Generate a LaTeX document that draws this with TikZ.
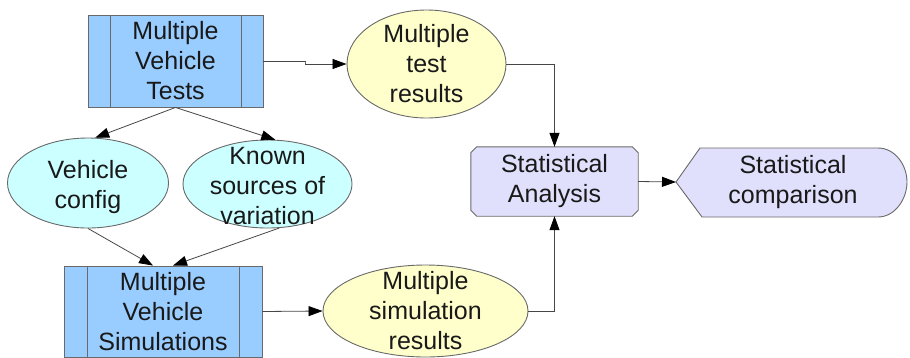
\documentclass[tikz,border=0pt]{standalone}
\usepackage{fontspec}
\setmainfont{Liberation Sans}
\usetikzlibrary{shapes.geometric,arrows.meta,calc,backgrounds}

\definecolor{boxblue}{RGB}{153,204,255}
\definecolor{cyanfill}{RGB}{204,255,255}
\definecolor{yellowfill}{RGB}{255,255,204}
\definecolor{lavender}{RGB}{224,224,252}
\definecolor{edgegrey}{RGB}{105,105,105}
\definecolor{linegrey}{RGB}{70,70,70}
\definecolor{textdark}{RGB}{25,25,25}

\tikzset{
  txt/.style={align=center, text=textdark, font=\fontsize{25}{30}\selectfont, inner sep=0pt},
  shapebase/.style={draw=edgegrey, line width=0.9pt, inner sep=0pt},
  process/.style={shapebase, rectangle, fill=boxblue,
    path picture={
      \draw[edgegrey, line width=0.9pt]
        ([xshift=#1]path picture bounding box.north west) -- ([xshift=#1]path picture bounding box.south west)
        ([xshift=-#1]path picture bounding box.north east) -- ([xshift=-#1]path picture bounding box.south east);
    }},
  oval/.style={shapebase, ellipse},
  outline/.style={fill=lavender, draw=edgegrey, line width=0.9pt},
  flow/.style={draw=linegrey, line width=0.8pt,
    -{Triangle[length=14pt,width=10pt,color=black]}},
}

\begin{document}
\begin{tikzpicture}[x=1pt, y=-1pt]
  \useasboundingbox (0,0) rectangle (910,357);

  % vehicle tests and simulations
  \node[process=22pt, minimum width=175pt, minimum height=92pt,
        label={[txt]center:Multiple\\Vehicle\\Tests}] (tb) at (175.5,61) {};
  \node[process=23pt, minimum width=198pt, minimum height=91pt,
        label={[txt]center:Multiple\\Vehicle\\Simulations}] (bb) at (163,311.5) {};

  % inputs
  \node[oval, fill=cyanfill, minimum width=161pt, minimum height=90pt,
        label={[txt, yshift=-4pt]center:Vehicle\\config}] (vc) at (88,183) {};
  \node[oval, fill=cyanfill, minimum width=169pt, minimum height=88pt,
        label={[txt, yshift=-2pt]center:Known\\sources of\\variation}] (ks) at (267.5,184) {};

  % results
  \node[oval, fill=yellowfill, minimum width=159pt, minimum height=108pt,
        label={[txt]center:Multiple\\test\\results}] (tr) at (426.5,64) {};
  \node[oval, fill=yellowfill, minimum width=205pt, minimum height=92pt,
        label={[txt]center:Multiple\\simulation\\results}] (sr) at (425.5,311) {};

  % analysis box with cut corners
  \node[txt, minimum width=167pt, minimum height=69pt] (sa) at (554.5,181.5)
    {Statistical\\Analysis};
  \begin{scope}[on background layer]
    \filldraw[outline]
      ([xshift=6pt]sa.north west) -- ([xshift=-6pt]sa.north east)
      -- ([yshift=-6pt]sa.north east) -- ([yshift=6pt]sa.south east)
      -- ([xshift=-6pt]sa.south east) -- ([xshift=6pt]sa.south west)
      -- ([yshift=6pt]sa.south west) -- ([yshift=-6pt]sa.north west) -- cycle;
  \end{scope}

  % comparison display shape
  \filldraw[outline]
    (676,182) -- (700,148) -- (878,148)
    .. controls (895,148) and (907,165) .. (907,182)
    .. controls (907,199) and (895,217) .. (878,217)
    -- (702,217) -- cycle;
  \coordinate (scp) at (676,182);
  \node[txt] (sc) at (793,182) {Statistical\\comparison};

  % connectors
  \coordinate (jog) at ($(tb.east)!0.5!(tr.west)$);
  \draw[flow] (tb.east) -| (jog) |- (tr.west);
  \draw[flow] (tb.south) -- (vc.81);
  \draw[flow] (tb.south) -- (ks.80);
  \draw[flow] (vc.south) -- ([xshift=-10pt]bb.north);
  \draw[flow] (ks.-75) -- ([xshift=10pt]bb.north);
  \draw[flow] (bb.east) -- (sr.west);
  \draw[flow] (tr.east) -| (sa.north);
  \draw[flow] (sr.east) -| (sa.south);
  \draw[flow] (sa.east) -- (scp);
\end{tikzpicture}
\end{document}
